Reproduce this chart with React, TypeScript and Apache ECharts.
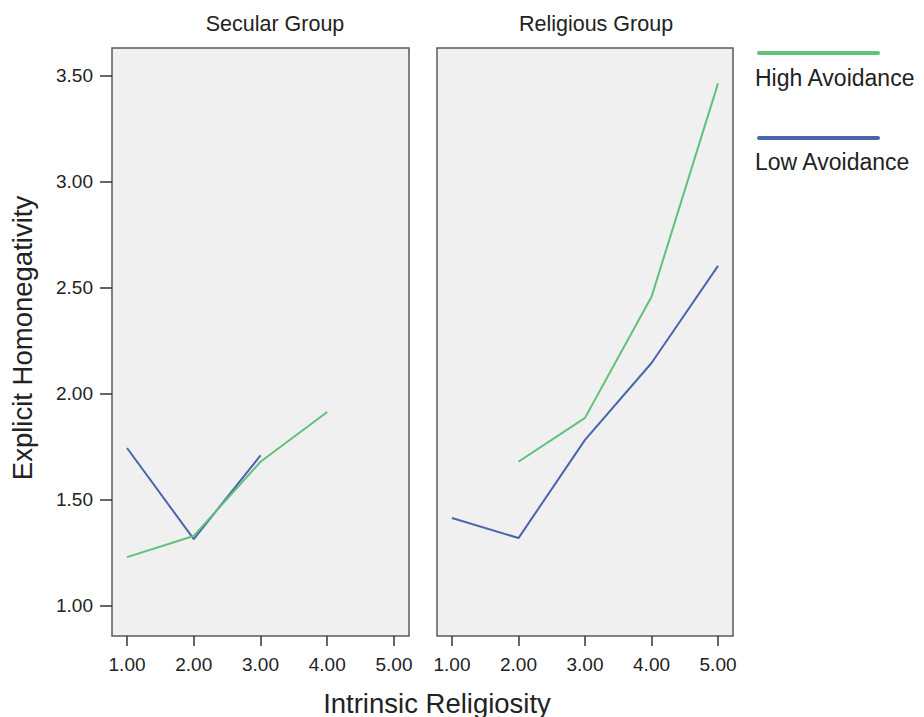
import React, { useEffect, useRef } from "react";
import * as echarts from "echarts";

const xTicks = [1, 2, 3, 4, 5];
const yTicks = [1.0, 1.5, 2.0, 2.5, 3.0, 3.5];
const panels = ["Secular Group", "Religious Group"];
const seriesNames = ["High Avoidance", "Low Avoidance"];
const colors = ["#5fc17a", "#4a66ab"];

// Secular group
const secularX = [1, 2, 3, 4, 5];
const secularHigh = [1.23, 1.33, 1.68, 1.915, null];
const secularLow = [1.745, 1.315, 1.71, null, null];
// Religious group
const religiousX = [1, 2, 3, 4, 5];
const religiousHigh = [null, 1.68, 1.887, 2.458, 3.465];
const religiousLow = [1.415, 1.32, 1.783, 2.146, 2.604];

const FONT = "Liberation Sans, Arial, sans-serif";

function pairs(xs: number[], ys: (number | null)[]) {
  const out: number[][] = [];
  xs.forEach((x, i) => {
    const y = ys[i];
    if (y !== null && y !== undefined) out.push([x, y]);
  });
  return out;
}

export default function App() {
  const ref = useRef<HTMLDivElement>(null);
  useEffect(() => {
    if (!ref.current) return;
    const chart = echarts.init(ref.current, undefined, { renderer: "svg" });
    const gridCommon = {
      top: 48,
      height: 588,
      show: true,
      backgroundColor: "#f0f0f0",
      borderColor: "#5a5a5a",
      borderWidth: 1.5,
    };
    const xAxisCommon = (gridIndex: number) => ({
      type: "value",
      gridIndex,
      min: 0.775,
      max: 5.225,
      splitLine: { show: false },
      axisLine: { show: false },
      axisTick: {
        show: true,
        customValues: xTicks,
        length: 10,
        lineStyle: { color: "#333", width: 1.5 },
      },
      axisLabel: {
        customValues: xTicks,
        formatter: (v: number) => v.toFixed(2),
        fontFamily: FONT,
        fontSize: 19,
        color: "#222",
        margin: 19,
      },
    });
    const yAxisCommon = (gridIndex: number, show: boolean) => ({
      type: "value",
      gridIndex,
      min: 0.858,
      max: 3.632,
      splitLine: { show: false },
      axisLine: { show: false },
      axisTick: {
        show,
        customValues: yTicks,
        length: 12,
        lineStyle: { color: "#333", width: 1.5 },
      },
      axisLabel: {
        show,
        customValues: yTicks,
        formatter: (v: number) => v.toFixed(2),
        fontFamily: FONT,
        fontSize: 19,
        color: "#222",
        margin: 19,
      },
    });
    const lineSeries = (name: string, color: string, data: number[][], idx: number) => ({
      type: "line",
      name,
      xAxisIndex: idx,
      yAxisIndex: idx,
      data,
      showSymbol: false,
      symbol: "none",
      lineStyle: { color, width: 2 },
      itemStyle: { color },
    });

    const legendItems = seriesNames.map((name, i) => ({
      type: "group",
      children: [
        {
          type: "line",
          shape: { x1: 759, y1: 53 + i * 85, x2: 878, y2: 53 + i * 85 },
          style: { stroke: colors[i], lineWidth: 4, lineCap: "round" },
        },
        {
          type: "text",
          x: 755,
          y: 78 + i * 84,
          style: {
            text: name,
            fontFamily: FONT,
            fontSize: 23,
            fill: "#222",
            verticalAlign: "middle",
          },
        },
      ],
    }));

    const titleStyle = { fontFamily: FONT, fontSize: 21.5, fontWeight: "normal", color: "#222" };

    chart.setOption({
      animation: false,
      backgroundColor: "#ffffff",
      title: [
        { text: panels[0], left: 270, top: 8, textAlign: "center", textStyle: titleStyle },
        { text: panels[1], left: 591, top: 8, textAlign: "center", textStyle: titleStyle },
      ],
      grid: [
        { ...gridCommon, left: 112, width: 297 },
        { ...gridCommon, left: 437, width: 296 },
      ],
      xAxis: [xAxisCommon(0), xAxisCommon(1)],
      yAxis: [yAxisCommon(0, true), yAxisCommon(1, false)],
      series: [
        lineSeries(seriesNames[1], colors[1], pairs(secularX, secularLow), 0),
        lineSeries(seriesNames[0], colors[0], pairs(secularX, secularHigh), 0),
        lineSeries(seriesNames[1], colors[1], pairs(religiousX, religiousLow), 1),
        lineSeries(seriesNames[0], colors[0], pairs(religiousX, religiousHigh), 1),
      ],
      graphic: [
        ...legendItems,
        {
          type: "text",
          x: 437,
          y: 703,
          style: {
            text: "Intrinsic Religiosity",
            fontFamily: FONT,
            fontSize: 27.5,
            fill: "#222",
            align: "center",
            verticalAlign: "middle",
          },
        },
        {
          type: "text",
          x: 22,
          y: 338,
          rotation: Math.PI / 2,
          style: {
            text: "Explicit Homonegativity",
            fontFamily: FONT,
            fontSize: 27.5,
            fill: "#222",
            align: "center",
            verticalAlign: "middle",
          },
        },
      ],
    });
    return () => chart.dispose();
  }, []);
  return <div ref={ref} style={{ width: 924, height: 717, position: "absolute", left: 0, top: 0 }} />;
}
